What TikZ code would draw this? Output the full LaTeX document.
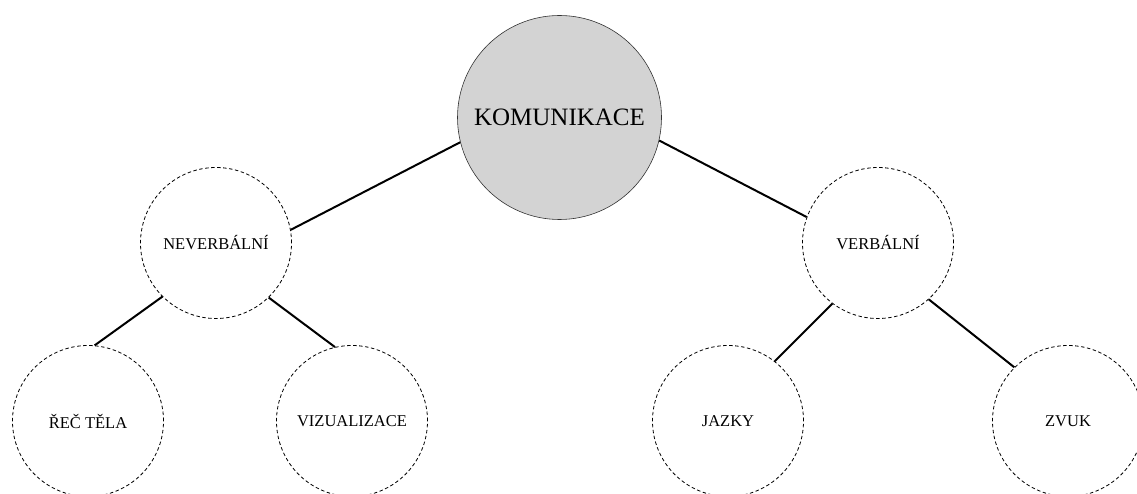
\documentclass[tikz,border=0pt]{standalone}
\usepackage{fontspec}
\setmainfont{Liberation Serif}
\definecolor{rootfill}{RGB}{211,211,211}
\begin{document}
\begin{tikzpicture}[x=1pt,y=-1pt,
  rootnode/.style={circle,draw=black!80,line width=0.6pt,fill=rootfill,minimum size=204pt,inner sep=0pt,font=\fontsize{25}{28}\selectfont},
  leafnode/.style={circle,draw=black,dashed,dash pattern=on 3.5pt off 2.5pt,line width=0.8pt,minimum size=151pt,inner sep=0pt,font=\fontsize{16.5}{19}\selectfont},
  link/.style={line width=2pt}]
\useasboundingbox (0,0) rectangle (1137,494);
\node[rootnode] (kom) at (559.5,117.5) {KOMUNIKACE};
\node[leafnode] (nev) at (216,243) {NEVERBÁLNÍ};
\node[leafnode] (ver) at (878,243) {VERBÁLNÍ};
\node[leafnode] (rec) at (88,421) {ŘEČ TĚLA};
\node[leafnode] (viz) at (352,421) {VIZUALIZACE};
\node[leafnode] (jaz) at (728,421) {JAZKY};
\node[leafnode] (zvu) at (1068,421) {ZVUK};
\draw[link] (kom.194) -- (nev.10);
\draw[link] (kom.347) -- (ver.160);
\draw[link] (nev.225) -- (rec.85);
\draw[link] (nev.314) -- (viz.103);
\draw[link] (ver.233) -- (jaz.52);
\draw[link] (ver.312) -- (zvu.135);
\end{tikzpicture}
\end{document}
